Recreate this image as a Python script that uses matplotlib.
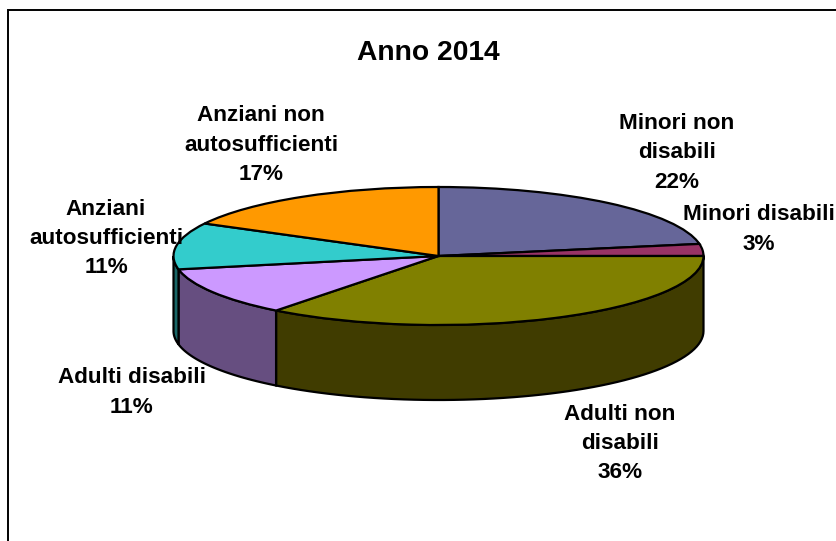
import numpy as np
import matplotlib
matplotlib.use('Agg')
import matplotlib.pyplot as plt
from matplotlib.patches import Polygon, Rectangle

plt.rcParams['font.family'] = ['Liberation Sans', 'DejaVu Sans']

# Dati
categorie = ['Minori non\ndisabili', 'Minori disabili', 'Adulti non\ndisabili',
             'Adulti disabili', 'Anziani\nautosufficienti', 'Anziani non\nautosufficienti']
valori = [22.2, 2.8, 35.5, 11.4, 10.9, 17.2]
colori = ['#666699', '#993366', '#808000', '#CC99FF', '#33CCCC', '#FF9900']
colori_lato = ['#3F3F63', '#66223F', '#403C00', '#664E80', '#196666', '#805000']
titolo = 'Anno 2014'

W, H = 837, 541
CX, CY, RX, RY, DEPTH = 438.5, 256, 265, 69, 75
# centro delle etichette in pixel
pos_etichette = [(677, 153), (759, 229.5), (620, 443.5), (132, 392.5), (106, 238.5), (261, 145)]


def px(x, y):
    return x / W, 1 - y / H


fig = plt.figure(figsize=(W / 100, H / 100), dpi=100)
ax = fig.add_axes([0, 0, 1, 1])

# Parete laterale della torta (solo la parte visibile, tra 90 e 270 gradi)
bordi = np.cumsum([0] + valori) / sum(valori) * 360
prof = DEPTH / RY
for i in range(len(valori)):
    a0 = max(bordi[i], 90)
    a1 = min(bordi[i + 1], 270)
    if a1 <= a0:
        continue
    t = np.radians(np.linspace(a0, a1, 60))
    xs = np.sin(t)
    ys = np.cos(t)
    pts = np.r_[np.c_[xs, ys], np.c_[xs[::-1], ys[::-1] - prof]]
    ax.add_patch(Polygon(pts, closed=True, facecolor=colori_lato[i],
                         edgecolor='black', linewidth=1.6, zorder=1))

# Faccia superiore
wedges, _ = ax.pie(valori, colors=colori, startangle=90, counterclock=False, radius=1,
                   wedgeprops={'edgecolor': 'black', 'linewidth': 1.6, 'zorder': 2})
ax.set_aspect('auto')
ax.set_xlim((0 - CX) / RX, (W - CX) / RX)
ax.set_ylim((CY - H) / RY, CY / RY)
ax.axis('off')

# Cornice del grafico, tagliata a destra e in basso
x0, y0 = px(8, 10)
fig.add_artist(Rectangle((x0, -0.05), 1.1, y0 + 0.05, transform=fig.transFigure,
                         facecolor='none', edgecolor='black', linewidth=1.4))

fig.text(*px(428.5, 53), titolo, fontsize=20.3, fontweight='bold', ha='center', va='center')

for nome, v, (x, y) in zip(categorie, valori, pos_etichette):
    fig.text(*px(x, y), f'{nome}\n{v:.0f}%', fontsize=16.2, fontweight='bold',
             ha='center', va='center', linespacing=1.52, zorder=5)

fig.savefig('out.png', dpi=100)
